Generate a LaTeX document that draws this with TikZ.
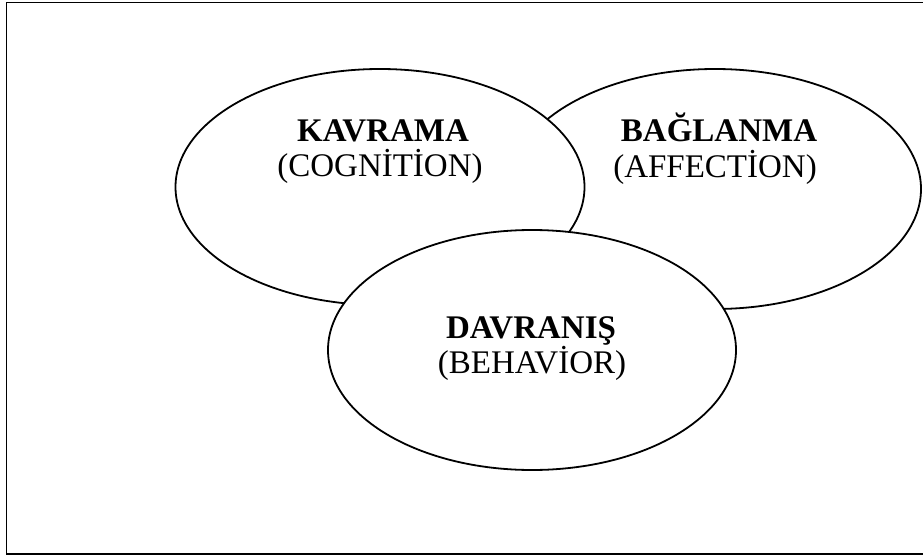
\documentclass[tikz,border=0pt]{standalone}
\usepackage{fontspec}
\setmainfont{Liberation Serif}
\usetikzlibrary{shapes.geometric}
\tikzset{
  oval/.style={ellipse, draw=black, fill=white, line width=1.8pt, inner sep=0pt},
  lbl/.style={anchor=base, inner sep=0pt, font=\fontsize{33}{36}\selectfont},
  lblb/.style={lbl, font=\fontsize{33}{36}\selectfont\bfseries},
  frame/.style={draw=black, line width=1.8pt}
}
\begin{document}
\begin{tikzpicture}[x=1pt,y=-1pt]
\useasboundingbox (0,0) rectangle (923,559);
\coordinate (tr) at (930,2.5);
\coordinate (tl) at (6.5,2.5);
\coordinate (bl) at (6.5,554);
\coordinate (br) at (930,554);
\draw[frame] (tr) -- (tl) -- (bl) -- (br);
\node[oval, minimum width=412pt, minimum height=240pt] (aff) at (715,189) {};
\node[oval, minimum width=409pt, minimum height=236pt] (cog) at (380,187) {};
\node[oval, minimum width=408pt, minimum height=240pt] (beh) at (532,350) {};
\node[lblb] (t1) at (383,142) {KAVRAMA};
\node[lbl] (t2) at (380,176) {(COGNİTİON)};
\node[lblb] (t3) at (719,142) {BAĞLANMA};
\node[lbl] (t4) at (715,177) {(AFFECTİON)};
\node[lblb] (t5) at (531,338) {DAVRANIŞ};
\node[lbl] (t6) at (532,373) {(BEHAVİOR)};
\end{tikzpicture}
\end{document}
